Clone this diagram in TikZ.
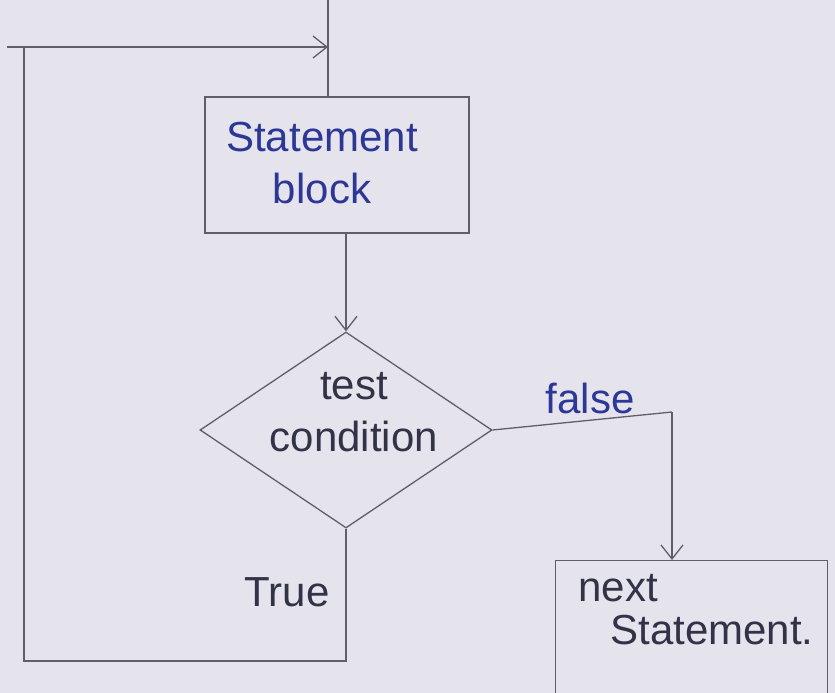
\documentclass[tikz,border=0pt]{standalone}
\usepackage{fontspec}
\setmainfont{Liberation Sans}
\usetikzlibrary{shapes.geometric,arrows.meta}
\definecolor{paper}{RGB}{229,227,235}
\definecolor{ink}{RGB}{95,95,102}
\definecolor{bluepen}{RGB}{45,55,150}
\definecolor{darkpen}{RGB}{50,50,72}
\begin{document}
\begin{tikzpicture}[x=1pt,y=-1pt,
  box/.style={draw=ink, line width=1.3pt, rectangle, inner sep=0pt},
  dec/.style={draw=ink, line width=1.3pt, diamond, inner sep=0pt},
  hand/.style={font=\fontsize{42}{52}\selectfont, align=center, inner sep=0pt},
  flow/.style={draw=ink, line width=1.3pt},
  arr/.style={flow, -{Straight Barb[length=14pt,width=22pt,line width=1.3pt]}}]
\fill[paper] (0,0) rectangle (835,693);
\useasboundingbox (0,0) rectangle (835,693);

\node[box, minimum width=264pt, minimum height=136pt] (block) at (337,165) {};
\node[hand, text=bluepen] (blocktext) at (322,163) {Statement\\block};

\node[dec, minimum width=292pt, minimum height=196pt] (cond) at (346,430) {};
\node[hand, text=darkpen] (condtext) at (354,412) {test\\condition};

\node[box, minimum width=272pt, minimum height=180pt, anchor=north west] (next) at (555,560) {};
\node[hand, text=darkpen] (nextw) at (618,588) {next};
\node[hand, text=darkpen] (stmtw) at (712,630) {Statement.};

\node[hand, text=bluepen] (falselab) at (590,398) {false};
\node[hand, text=darkpen] (truelab) at (287,592) {True};

\coordinate (top) at (328,0);
\coordinate (startl) at (7,47);
\coordinate (entry) at (328,47);
\coordinate (looptl) at (24,47);
\coordinate (loopbl) at (24,661);
\coordinate (ftop) at (672,412);

\draw[flow] (top) -- (top |- block.north);
\draw[arr] (cond.north |- block.south) -- (cond.north);
\draw[flow] (cond.east) -- (ftop);
\draw[arr] (ftop) -- (ftop |- next.north);
\draw[flow] (cond.south) -- (cond.south |- loopbl) -- (loopbl) -- (looptl);
\draw[arr] (startl) -- (entry);
\end{tikzpicture}
\end{document}
